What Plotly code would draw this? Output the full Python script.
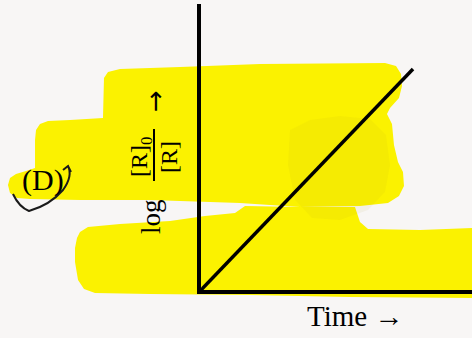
import plotly.graph_objects as go

# first-order reaction: log([R]0/[R]) grows linearly with time
time = [0, 1]
log_ratio = [0, 1]

x_label = "Time →"
option_label = "(D)"

W, H = 472, 338
PAPER = "#f8f6f5"
YELLOW = "#fbf200"


def px(x, y):
    return f"{x / W:.4f},{1 - y / H:.4f}"


def poly(pts):
    return "M " + " L ".join(px(x, y) for x, y in pts) + " Z"


# highlighter strokes (page pixels)
hl_top = [(104, 78), (108, 72), (120, 69), (180, 67), (260, 64), (385, 63), (396, 66), (401, 74),
          (402, 86), (399, 98), (390, 108), (387, 114), (392, 124), (394, 145), (398, 162),
          (403, 172), (404, 186), (399, 196), (388, 203), (360, 206), (300, 207), (240, 203),
          (210, 202), (150, 200), (80, 200), (30, 199), (17, 198), (10, 193), (8, 185), (10, 178),
          (16, 174), (26, 171), (35, 168), (35, 140), (36, 130), (40, 124), (48, 121), (70, 120),
          (103, 118)]
hl_bottom = [(80, 232), (88, 227), (120, 224), (170, 221), (205, 216), (235, 213), (245, 206),
             (300, 207), (355, 207), (360, 222), (368, 229), (420, 230), (472, 228), (472, 298),
             (350, 297), (250, 295), (150, 294), (95, 293), (84, 289), (78, 280), (75, 262),
             (75, 248), (77, 238)]
hl_dark = [(290, 130), (310, 120), (340, 116), (370, 119), (386, 135), (390, 165), (385, 192),
           (368, 210), (340, 220), (312, 218), (295, 200), (288, 165)]

fig = go.Figure()
fig.add_trace(go.Scatter(x=time, y=log_ratio, mode="lines",
                         line=dict(color="black", width=3.5), hoverinfo="skip"))

shapes = [
    dict(type="path", path=poly(hl_top), xref="paper", yref="paper",
         fillcolor=YELLOW, line=dict(width=0), layer="below"),
    dict(type="path", path=poly(hl_bottom), xref="paper", yref="paper",
         fillcolor=YELLOW, line=dict(width=0), layer="below"),
    dict(type="path", path=poly(hl_dark), xref="paper", yref="paper",
         fillcolor="rgba(170,160,30,0.07)", line=dict(width=0), layer="below"),
    # fraction bar of the y label
    dict(type="line", xref="paper", yref="paper", x0=154 / W, x1=154 / W,
         y0=1 - 129 / H, y1=1 - 181 / H, line=dict(color="black", width=2)),
    # pen mark circling the option
    dict(type="path", xref="paper", yref="paper",
         path="M " + px(13, 194) + " Q " + px(19, 207) + " " + px(29, 211)
              + " Q " + px(50, 205) + " " + px(63, 190)
              + " Q " + px(73, 176) + " " + px(68, 166)
              + " M " + px(63, 170) + " L " + px(68, 166) + " L " + px(71, 172),
         line=dict(color="#1a1a1a", width=2)),
]

serif = "Liberation Serif"
annotations = [
    dict(text=x_label, x=355 / W, y=1 - 316 / H, font=dict(size=29)),
    dict(text="log", x=151 / W, y=1 - 217 / H, textangle=-90, font=dict(size=27)),
    dict(text="[R]<sub>0</sub>", x=141 / W, y=1 - 157 / H, textangle=-90, font=dict(size=24)),
    dict(text="[R]", x=169 / W, y=1 - 157 / H, textangle=-90, font=dict(size=24)),
    dict(text="→", x=155 / W, y=1 - 101 / H, textangle=-90,
         font=dict(size=26, family="DejaVu Sans")),
    dict(text=option_label, x=43 / W, y=1 - 180 / H, font=dict(size=30)),
]
for a in annotations:
    a.update(xref="paper", yref="paper", showarrow=False, xanchor="center", yanchor="middle")
    a["font"].setdefault("family", serif)
    a["font"].update(color="black")

fig.update_layout(
    width=W, height=H, autosize=False,
    margin=dict(l=0, r=0, t=0, b=0),
    paper_bgcolor=PAPER, plot_bgcolor="rgba(0,0,0,0)",
    showlegend=False,
    shapes=shapes, annotations=annotations,
    xaxis=dict(domain=[201 / W, 1], range=[0, 271 / 212], showline=True, linecolor="black",
               linewidth=3.5, showgrid=False, zeroline=False, showticklabels=False, ticks=""),
    yaxis=dict(domain=[48 / H, 334 / H], range=[0, 286 / 221], showline=True, linecolor="black",
               linewidth=3.5, showgrid=False, zeroline=False, showticklabels=False, ticks=""),
)

fig.write_html("out.html", config={"displayModeBar": False},
               post_script="document.body.style.margin='0';document.body.style.background='%s';" % PAPER)
